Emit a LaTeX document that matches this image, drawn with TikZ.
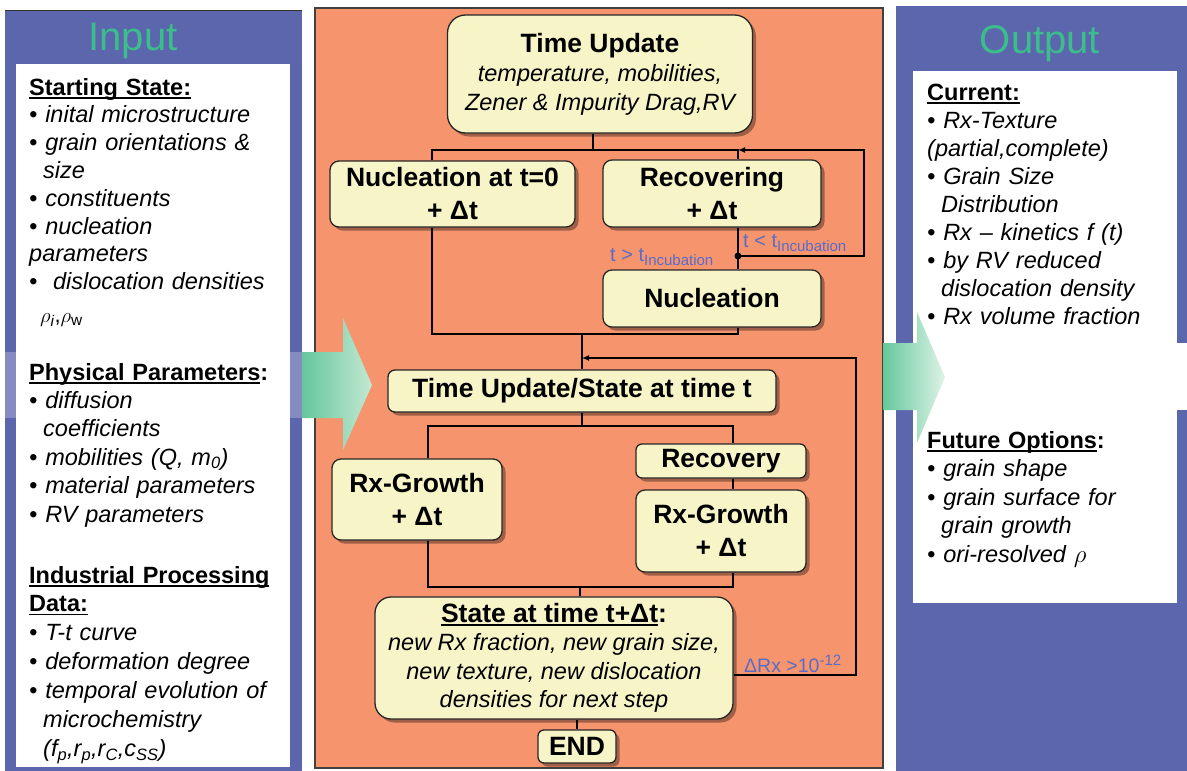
\documentclass[tikz,border=0pt]{standalone}
\usepackage{fontspec}
\setmainfont{Liberation Sans}
\usetikzlibrary{arrows.meta,positioning,shadows}
\definecolor{panelblue}{RGB}{91,102,173}
\definecolor{titlegreen}{RGB}{60,190,140}
\definecolor{flowbg}{RGB}{246,148,110}
\definecolor{boxfill}{RGB}{247,244,200}
\definecolor{condblue}{RGB}{88,108,200}
\definecolor{arrowdark}{RGB}{100,200,155}
\definecolor{arrowlight}{RGB}{196,232,210}
\newcommand\uln[1]{\leavevmode\setbox0\hbox{#1}\rlap{\rule[-3.5pt]{\wd0}{1.5pt}}\box0}
\newcommand\bul{\textbullet\ }
\newcommand\ind{\hspace*{14pt}}

\begin{document}
\begin{tikzpicture}[x=1pt,y=-1pt,
  box/.style={draw=black!85, line width=1.3pt, fill=boxfill, rounded corners=9pt, align=center, inner sep=0pt,
    drop shadow={shadow xshift=3.5pt, shadow yshift=-3.5pt, fill=black, opacity=0.35}},
  bt/.style={font=\fontsize{26.5}{33}\selectfont\bfseries},
  title/.style={font=\fontsize{40}{44}\selectfont, text=titlegreen, anchor=base, inner sep=0pt},
  list/.style={anchor=base west, inner sep=0pt, text width=300pt, align=left, font=\fontsize{23.5}{#1}\selectfont\itshape},
  cond/.style={anchor=base west, inner sep=0pt, text=condblue, font=\fontsize{20}{20}\selectfont},
  ln/.style={line width=1.8pt}, arr/.style={ln, -{Latex[length=7pt,width=6pt]}}]
\useasboundingbox (0,0) rectangle (1187,771);
\fill[panelblue] (5,10) rectangle (302,771);
\draw[black!80, line width=1pt] (5,10) -- (302,10);
\fill[white] (16,64) rectangle (290,767);
\fill[flowbg, draw=black!75, line width=1.2pt] (315,8) rectangle (883,768);
\fill[panelblue] (896,6) rectangle (1187,771);
\fill[white] (913,71) rectangle (1177,603);
\fill[white, opacity=0.25] (0,352) rectangle (302,418);
\fill[white] (917,343) rectangle (1187,410);
\shade[left color=arrowdark, right color=arrowlight] (302,352) -- (343,352) -- (343,318) -- (372,385) -- (343,450) -- (343,418) -- (302,418) -- cycle;
\shade[left color=arrowdark, right color=arrowlight!55!white] (883,343) -- (917,343) -- (917,312) -- (945,377) -- (917,443) -- (917,410) -- (883,410) -- cycle;

\node[title] (intitle) at (133,50) {Input};
\node[title] (outtitle) at (1040,53) {Output};

\node[list=27.8] (start) at (29,95) {{\upshape\bfseries\uln{Starting State:}}\\
  \bul inital microstructure\\ \bul grain orientations \&\\ \ind size\\ \bul constituents\\
  \bul nucleation\\ parameters\\ \bul\ dislocation densities};
\node[anchor=base west, inner sep=0pt, font=\fontsize{22}{22}\selectfont] (rho) at (40,322) {$\rho$\textsubscript{\itshape i},$\rho$\textsubscript{w}};
\node[list=28.4] (phys) at (29,380) {{\upshape\bfseries\uln{Physical Parameters}:}\\
  \bul diffusion\\ \ind coefficients\\ \bul mobilities (Q, m\textsubscript{0})\\ \bul material parameters\\ \bul RV parameters};
\node[list=28.9] (proc) at (29,583) {{\upshape\bfseries\uln{Industrial Processing}}\\ {\upshape\bfseries\uln{Data:}}\\
  \bul T-t curve\\ \bul deformation degree\\ \bul temporal evolution of\\ \ind microchemistry\\
  \ind (f\textsubscript{p},r\textsubscript{p},r\textsubscript{C},c\textsubscript{SS})};

\node[list=28.1] (cur) at (927,100) {{\upshape\bfseries\uln{Current:}}\\
  \bul Rx-Texture\\ (partial,complete)\\ \bul Grain Size\\ \ind Distribution\\ \bul Rx – kinetics f (t)\\
  \bul by RV reduced\\ \ind dislocation density\\ \bul Rx volume fraction};
\node[list=28.5] (fut) at (927,448) {{\upshape\bfseries\uln{Future Options}:}\\
  \bul grain shape\\ \bul grain surface for\\ \ind grain growth\\ \bul ori-resolved $\rho$};

\node[box, minimum width=305pt, minimum height=118pt, rounded corners=18pt, font=\fontsize{23.5}{29}\selectfont\itshape] (tu) at (600,74)
  {{\fontsize{26.5}{29}\selectfont\bfseries\upshape Time Update}\\ temperature, mobilities,\\ Zener \& Impurity Drag,RV};
\node[box, bt, minimum width=245pt, minimum height=66pt] (nuc0) at (452.5,194) {Nucleation at t=0\\+ Δt};
\node[box, bt, minimum width=218pt, minimum height=67pt] (recov) at (712,193.5) {Recovering\\+ Δt};
\node[box, bt, minimum width=218pt, minimum height=57pt] (nucl) at (712,298.5) {Nucleation};
\node[box, bt, minimum width=388pt, minimum height=42pt, rounded corners=7pt] (state) at (582,391) {Time Update/State at time t};
\node[box, bt, minimum width=170pt, minimum height=81pt] (rxg1) at (417,499.5) {Rx-Growth\\+ Δt};
\node[box, bt, minimum width=170pt, minimum height=34pt, rounded corners=6pt] (recy) at (721,461) {Recovery};
\node[box, bt, minimum width=170pt, minimum height=82pt] (rxg2) at (721,531) {Rx-Growth\\+ Δt};
\node[box, minimum width=358pt, minimum height=122pt, rounded corners=16pt, font=\fontsize{23.5}{28.5}\selectfont\itshape] (next) at (554,658)
  {{\fontsize{26.5}{28.5}\selectfont\bfseries\upshape\uln{State at time t+Δt}:}\\ new Rx fraction, new grain size,\\
   new texture, new dislocation\\ densities for next step};
\node[box, bt, minimum width=78pt, minimum height=33pt, rounded corners=6pt] (fin) at (577,746.5) {END};

\node[cond] (lt) at (743,247) {t < t\raisebox{-4.5pt}{\fontsize{15}{15}\selectfont Incubation}};
\node[cond] (gt) at (610,261) {t > t\raisebox{-4.5pt}{\fontsize{15}{15}\selectfont Incubation}};
\node[cond, font=\fontsize{19.5}{20}\selectfont] (drx) at (744,672) {ΔRx >10\raisebox{7pt}{\fontsize{15}{15}\selectfont -12}};

\coordinate (top) at (593,150);
\coordinate (tl) at (432,150);
\coordinate (tr) at (738,150);
\coordinate (split) at (738,256);
\coordinate (merge) at (582,334);
\coordinate (loop) at (582,358);
\coordinate (fl) at (428,426);
\coordinate (fr) at (733,426);
\coordinate (jl) at (428,587);
\coordinate (jr) at (733,587);
\coordinate (join) at (580,587);

\draw[ln] (tu.south -| top) -- (top);
\draw[ln] (tl |- nuc0.north) -- (tl) -- (tr) -- (tr |- recov.north);
\draw[ln] (tr |- recov.south) -- (tr |- nucl.north);
\fill (split) circle (3.5pt);
\draw[arr] (split) -- ++(126,0) |- (tr);
\draw[ln] (tr |- nucl.south) |- (tl |- merge) -- (tl |- nuc0.south);
\draw[ln] (merge) -- (merge |- state.north);
\draw[arr] ([yshift=-17pt]next.east) -- ++(122,0) |- (loop);
\draw[ln] (state.south) -- (state.south |- fl);
\draw[ln] (fl |- rxg1.north) -- (fl) -- (fr) -- (fr |- recy.north);
\draw[ln] (fr |- recy.south) -- (fr |- rxg2.north);
\draw[ln] (jl |- rxg1.south) -- (jl) -- (jr) -- (jr |- rxg2.south);
\draw[ln] (join) -- (join |- next.north);
\draw[ln] (fin.north |- next.south) -- (fin.north);
\end{tikzpicture}
\end{document}
